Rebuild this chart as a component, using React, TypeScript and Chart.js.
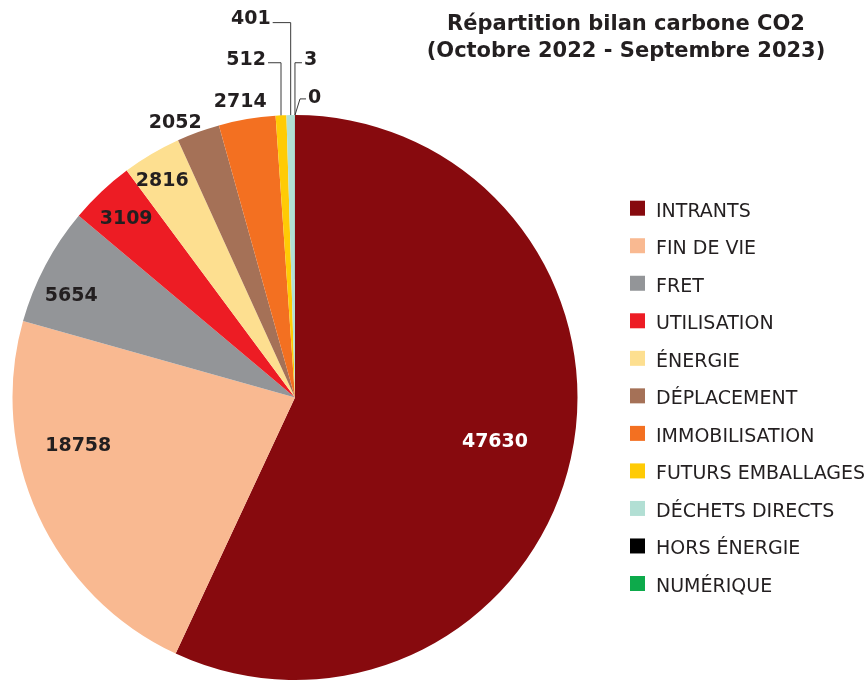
import React, { useEffect, useRef } from "react";
import { Chart, registerables } from "chart.js";

Chart.register(...registerables);

const CATEGORIES = [
  "INTRANTS",
  "FIN DE VIE",
  "FRET",
  "UTILISATION",
  "ÉNERGIE",
  "DÉPLACEMENT",
  "IMMOBILISATION",
  "FUTURS EMBALLAGES",
  "DÉCHETS DIRECTS",
  "HORS ÉNERGIE",
  "NUMÉRIQUE",
];
const VALUES = [47630, 18758, 5654, 3109, 2816, 2052, 2714, 512, 401, 3, 0];
const COLORS = [
  "#870a0e",
  "#f9b991",
  "#939598",
  "#ed1c24",
  "#fddf90",
  "#a57157",
  "#f37021",
  "#ffcb05",
  "#b2dfd4",
  "#000000",
  "#0daa4b",
];
const TITLE_LINES = ["Répartition bilan carbone CO2", "(Octobre 2022 - Septembre 2023)"];

// label placement style (relative to each arc's own geometry)
type LabelCfg =
  | { kind: "in"; r: number; frac?: number; color?: string }
  | { kind: "leader"; ry: number; dx: number; slant?: number; ty: number };
const LABEL_LAYOUT: LabelCfg[] = [
  { kind: "in", r: 0.725, frac: 0.5, color: "#ffffff" },
  { kind: "in", r: 0.786, frac: 0.65 },
  { kind: "in", r: 0.87, frac: 0.36 },
  { kind: "in", r: 0.87, frac: 0.49 },
  { kind: "in", r: 0.9, frac: 0.42 },
  { kind: "in", r: 1.06, frac: 0.1 },
  { kind: "in", r: 1.064, frac: 0.44 },
  { kind: "leader", ry: 1.185, dx: -13, ty: -3 },
  { kind: "leader", ry: 1.327, dx: -18, ty: -4 },
  { kind: "leader", ry: 1.185, dx: 7, ty: -3 },
  { kind: "leader", ry: 1.057, dx: 6, slant: 5, ty: -1 },
];

const TEXT_COLOR = "#231f20";
const FONT = "'DejaVu Sans', sans-serif";

const labelPlugin = {
  id: "sliceLabels",
  afterDatasetsDraw(chart: any) {
    const ctx = chart.ctx;
    const meta = chart.getDatasetMeta(0);
    const data = chart.data.datasets[0].data as number[];
    ctx.save();
    ctx.font = `bold 19px ${FONT}`;
    meta.data.forEach((arc: any, i: number) => {
      const p = arc.getProps(["x", "y", "startAngle", "endAngle", "outerRadius"], true);
      const cfg = LABEL_LAYOUT[i];
      const R = p.outerRadius;
      const text = String(data[i]);
      if (cfg.kind === "in") {
        const a = p.startAngle + (p.endAngle - p.startAngle) * (cfg.frac ?? 0.5);
        const x = p.x + Math.cos(a) * R * cfg.r;
        const y = p.y + Math.sin(a) * R * cfg.r;
        ctx.fillStyle = cfg.color || TEXT_COLOR;
        ctx.textAlign = "center";
        ctx.textBaseline = "middle";
        ctx.fillText(text, x, y);
      } else {
        const a = (p.startAngle + p.endAngle) / 2;
        const x0 = p.x + Math.cos(a) * R;
        const y0 = p.y + Math.sin(a) * R;
        const yL = p.y - R * cfg.ry;
        const x1 = x0 + (cfg.slant || 0);
        const x2 = x1 + cfg.dx;
        ctx.strokeStyle = "#3a3a3a";
        ctx.lineWidth = 1;
        ctx.beginPath();
        ctx.moveTo(x0, y0);
        ctx.lineTo(x1, yL);
        ctx.lineTo(x2, yL);
        ctx.stroke();
        ctx.fillStyle = TEXT_COLOR;
        ctx.textAlign = cfg.dx < 0 ? "right" : "left";
        ctx.textBaseline = "middle";
        ctx.fillText(text, x2 + (cfg.dx < 0 ? -2 : 2), yL + cfg.ty);
      }
    });
    ctx.restore();
  },
  afterDraw(chart: any) {
    const ctx = chart.ctx;
    ctx.save();
    // title
    ctx.fillStyle = TEXT_COLOR;
    ctx.font = `bold 21px ${FONT}`;
    ctx.textAlign = "center";
    ctx.textBaseline = "alphabetic";
    ctx.fillText(TITLE_LINES[0], 626, 29.5);
    ctx.fillText(TITLE_LINES[1], 626, 57);
    // legend
    const labels = chart.data.labels as string[];
    const colors = chart.data.datasets[0].backgroundColor as string[];
    ctx.font = `19px ${FONT}`;
    ctx.textAlign = "left";
    labels.forEach((lab, i) => {
      const top = 200.7 + i * 37.53;
      ctx.fillStyle = colors[i];
      ctx.fillRect(630, top, 15, 15);
      ctx.fillStyle = TEXT_COLOR;
      ctx.fillText(lab, 656, top + 16);
    });
    ctx.restore();
  },
};

export default function App() {
  const ref = useRef<HTMLCanvasElement | null>(null);
  useEffect(() => {
    if (!ref.current) return;
    const chart = new Chart(ref.current, {
      type: "pie",
      data: {
        labels: CATEGORIES,
        datasets: [
          {
            data: VALUES,
            backgroundColor: COLORS,
            borderWidth: 0,
          },
        ],
      },
      options: {
        responsive: false,
        animation: false,
        layout: { padding: { left: 12.5, right: 290.5, top: 115, bottom: 2 } },
        plugins: {
          legend: { display: false },
          title: { display: false },
          tooltip: { enabled: false },
        },
      },
      plugins: [labelPlugin],
    });
    return () => chart.destroy();
  }, []);
  return (
    <canvas
      ref={ref}
      width={868}
      height={682}
      style={{ position: "fixed", left: 0, top: 0, width: 868, height: 682, display: "block", background: "#fff" }}
    />
  );
}
